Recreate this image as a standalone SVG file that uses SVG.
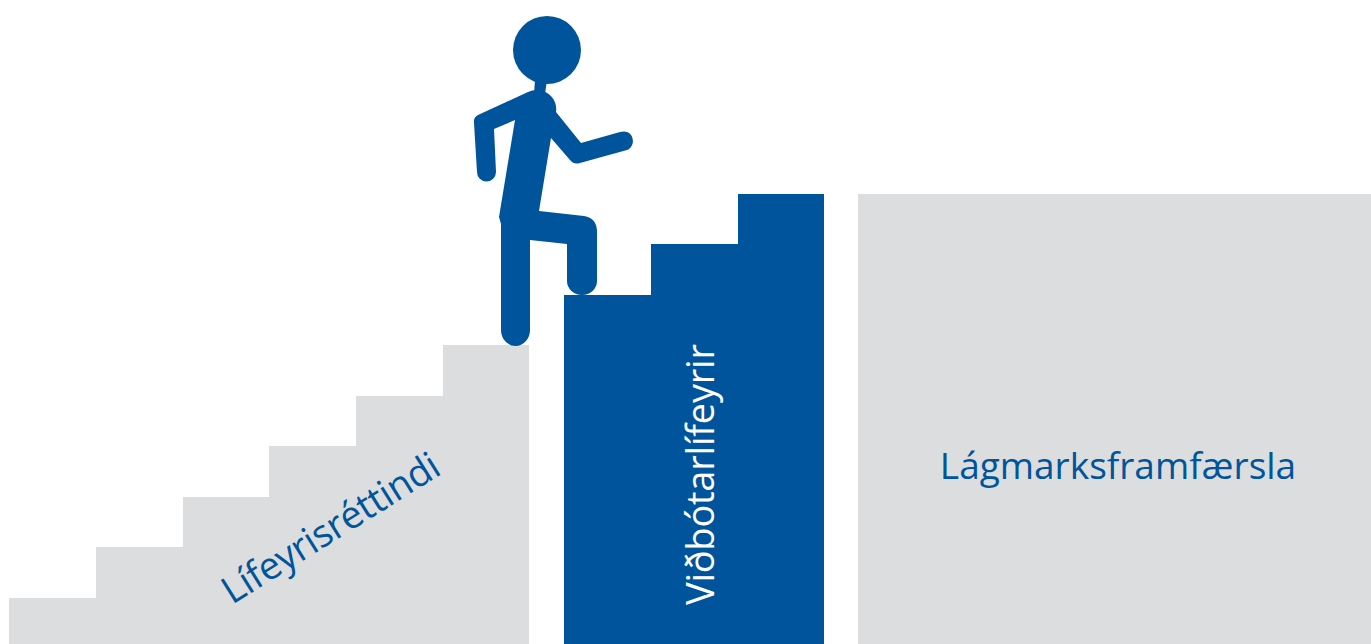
<svg xmlns="http://www.w3.org/2000/svg" width="1371" height="644" viewBox="0 0 1371 644">
<style>
.g{fill:#dcddde}.b{fill:#00549b}
text{font-family:"Open Sans","Noto Sans",sans-serif;font-size:37px}
</style>
<rect width="1371" height="644" fill="#fff"/>
<g id="stairs-left"><path class="g" d="M9 644V598H96V547H183V497H269V446H356V396H443V345H529V644Z"/>
<text transform="translate(232 605) rotate(-32)" fill="#00549b" style="font-size:38px" textLength="249" lengthAdjust="spacing">Lífeyrisréttindi</text></g>
<g id="stairs-middle"><path class="b" d="M564 644V295H651V244H738V194H824V644Z"/>
<text transform="translate(714 605) rotate(-90)" fill="#fff" style="font-size:38px" textLength="261" lengthAdjust="spacing">Viðbótarlífeyrir</text></g>
<g id="box-right"><rect class="g" x="858" y="194" width="513" height="450"/>
<text x="1118" y="479" text-anchor="middle" fill="#00549b">Lágmarksframfærsla</text></g>
<g id="person">
<circle class="b" cx="547" cy="50" r="34"/>
<path class="b" d="M535 80H547L545 94H534Z"/>
<path class="b" d="M528 92L478 115Q473 118 474 123L477 172A9.500 9.500 0 0 0 496 172L494 129L515 120L499 217L501 224V330A14.500 16 0 0 0 530 330V240L567 244V281A15 14 0 0 0 597 281V232Q597 218 584 216L539 211L551 138L570 160Q574 165 580 163L627 150C637 146 634 128 620 132L581 143L556 112C558 100 548 90 537 90Q532 90 528 92Z"/>
</g>
</svg>
